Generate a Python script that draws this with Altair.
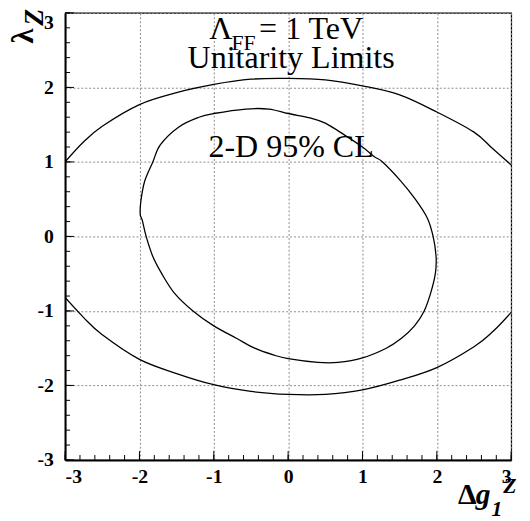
import altair as alt
import pandas as pd

# ---- data ----
outer_x = [-3.0, -2.75, -2.5, -2.0, -1.5, -1.0, -0.5, 0.0, 0.5, 1.0, 1.5, 2.0, 2.5, 2.75, 3.0]
outer_top_y = [1.00, 1.27, 1.48, 1.77, 1.93, 2.04, 2.11, 2.12, 2.10, 2.02, 1.90, 1.67, 1.40, 1.18, 0.96]
outer_bot_y = [-0.82, -1.09, -1.32, -1.65, -1.84, -1.99, -2.08, -2.12, -2.12, -2.06, -1.93, -1.76, -1.48, -1.28, -1.02]

inner_x = [-1.99, -1.98, -1.93, -1.82, -1.72, -1.47, -1.20, -1.00, -0.57, -0.26, 0.00, 0.30, 0.50,
           0.76, 1.00, 1.16, 1.27, 1.51, 1.71, 1.87, 1.95, 1.99, 1.98, 1.92, 1.83, 1.70, 1.52, 1.32,
           1.00, 0.67, 0.40, 0.00, -0.20, -0.45, -0.69, -1.00, -1.28, -1.53, -1.70, -1.82, -1.91, -1.96]
inner_y = [0.30, 0.48, 0.74, 1.00, 1.23, 1.47, 1.60, 1.65, 1.71, 1.71, 1.65, 1.59, 1.52,
           1.36, 1.20, 1.07, 1.00, 0.75, 0.50, 0.25, 0.00, -0.27, -0.50, -0.75, -1.00, -1.20, -1.37, -1.50,
           -1.63, -1.69, -1.69, -1.64, -1.59, -1.50, -1.37, -1.20, -1.00, -0.76, -0.50, -0.27, 0.00, 0.21]

major_ticks = [-3, -2, -1, 0, 1, 2, 3]
minor_ticks = [round(-3 + 0.2 * i, 1) for i in range(31)]

W, H = 453, 454
FONT = "Liberation Serif"

xs = alt.Scale(domain=[-3, 3], nice=False, zero=False)
ys = alt.Scale(domain=[-3, 3], nice=False, zero=False)
common_axis = dict(values=major_ticks, title=None, grid=True, gridDash=[2, 2], gridColor="#8a8a8a",
                   gridWidth=1, tickSize=0, labelFont=FONT, labelFontWeight="bold", labelFontSize=20,
                   labelColor="black", domainColor="black", domainWidth=2,
                   labelExpr="toString(datum.value)")
xaxis = alt.Axis(labelPadding=7, **common_axis)
yaxis = alt.Axis(labelPadding=12,
                 labelBaseline={"condition": {"test": "datum.value == 3", "value": "top"},
                                "value": "middle"},
                 **common_axis)


def X(f):
    return alt.X(f, type="quantitative", scale=xs, axis=xaxis)


def Y(f):
    return alt.Y(f, type="quantitative", scale=ys, axis=yaxis)


def curve(xv, yv, interp):
    df = pd.DataFrame({"x": xv, "y": yv, "i": list(range(len(xv)))})
    return alt.Chart(df).mark_line(color="black", strokeWidth=1.3, interpolate=interp, clip=True).encode(
        x=X("x"), y=Y("y"), order=alt.Order("i:Q"))


top_curve = curve(outer_x, outer_top_y, "cardinal")
bot_curve = curve(outer_x, outer_bot_y, "cardinal")
inner_curve = curve(inner_x, inner_y, "cardinal-closed")

minor_df = pd.DataFrame({"v": minor_ticks})
major_df = pd.DataFrame({"v": major_ticks})

xt_minor = alt.Chart(minor_df).mark_rule(color="black", strokeWidth=1).encode(
    x=X("v"), y=alt.value(H), y2=alt.value(H - 5))
xt_major = alt.Chart(major_df).mark_rule(color="black", strokeWidth=1).encode(
    x=X("v"), y=alt.value(H), y2=alt.value(H - 9))
yt_minor = alt.Chart(minor_df).mark_rule(color="black", strokeWidth=1).encode(
    y=Y("v"), x=alt.value(0), x2=alt.value(5))
yt_major = alt.Chart(major_df).mark_rule(color="black", strokeWidth=1).encode(
    y=Y("v"), x=alt.value(0), x2=alt.value(9))

one = pd.DataFrame({"a": [0]})


def txt(t, x, y, size, align="left", weight="normal", style="normal", angle=0):
    kw = dict(text=t, align=align, baseline="alphabetic", font=FONT, fontSize=size,
              fontWeight=weight, fontStyle=style, color="black")
    if angle:
        kw["angle"] = angle
    return alt.Chart(one).mark_text(**kw).encode(x=alt.value(x), y=alt.value(y))


texts = [
    txt("Λ", 146.5, 26, 32.5),
    txt("FF", 169, 38, 22),
    txt("= 1 TeV", 197, 26, 32.5),
    txt("Unitarity Limits", 229.5, 56, 32.5, align="center"),
    txt("2-D 95% CL", 229.5, 146, 32.5, align="center"),
    # y-axis title  λ_Z
    txt("λ", -33, 31, 31, weight="bold", angle=270),
    txt("Z", -22, 13, 28, weight="bold", style="italic", angle=270),
    # x-axis title  Δg_1^Z
    txt("Δ", 399, 499, 30, weight="bold"),
    txt("g", 417, 499, 30, weight="bold", style="italic"),
    txt("1", 433, 511, 22, weight="bold", style="italic"),
    txt("Z", 445, 488, 22, weight="bold", style="italic"),
]

chart = alt.layer(
    top_curve, bot_curve, inner_curve, xt_minor, xt_major, yt_minor, yt_major, *texts
).properties(
    width=W, height=H,
    autosize=alt.AutoSizeParams(type="none"),
    padding={"left": 58, "top": 1, "right": 11, "bottom": 58},
    background="white",
).configure_view(stroke="black", strokeWidth=1.2)

chart.save("out.html", embed_options={"renderer": "svg", "actions": False})
